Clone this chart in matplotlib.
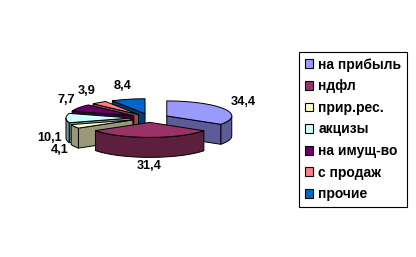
import numpy as np
import matplotlib
matplotlib.use('Agg')
import matplotlib.pyplot as plt
from matplotlib.patches import Polygon, Patch
from matplotlib.colors import to_rgb

names = ['на прибыль', 'ндфл', 'прир.рес.', 'акцизы', 'на имущ-во', 'с продаж', 'прочие']
values = [34.4, 31.4, 4.1, 10.1, 7.7, 3.9, 8.4]
colors = ['#9999FF', '#993366', '#FFFFCC', '#CCFFFF', '#660066', '#FF8080', '#0066CC']

# pie geometry in pixel units
cx, cy = 150, 118
rx, ry = 65, 15
depth = 20
explode = 19
k = ry / rx

fig = plt.figure(figsize=(4.16, 2.57), dpi=100, facecolor='w')
ax = fig.add_axes([0, 0, 1, 1])
ax.set_xlim(0, 416)
ax.set_ylim(257, 0)
ax.axis('off')


def rim(t):
    t = np.radians(t)
    return rx * np.sin(t), -ry * np.cos(t)


def darker(c, f=0.6):
    return tuple(v * f for v in to_rgb(c))


total = sum(values)
bounds = np.concatenate([[0], np.cumsum(values) / total * 360])
slices = []
for i, v in enumerate(values):
    ts, te = bounds[i], bounds[i + 1]
    m = (ts + te) / 2
    ox = cx + explode * np.sin(np.radians(m))
    oy = cy - explode * k * np.cos(np.radians(m))
    slices.append((i, ts, te, m, ox, oy))

# back to front
order = sorted(slices, key=lambda s: -np.cos(np.radians(s[3])))
lw = 0.7
for i, ts, te, m, ox, oy in order:
    top = colors[i]
    side = darker(top)
    # curved outer wall, front half only
    a, b = max(ts, 90), min(te, 270)
    if a < b:
        th = np.linspace(a, b, 40)
        xs, ys = rim(th)
        upper = np.column_stack([ox + xs, oy + ys])
        lower = upper[::-1] + [0, depth]
        ax.add_patch(Polygon(np.vstack([upper, lower]), closed=True,
                             facecolor=side, edgecolor='black', lw=lw))
    # radial walls
    for t, vis in ((ts, np.sin(np.radians(ts)) < -1e-6),
                   (te, np.sin(np.radians(te)) > 1e-6)):
        if vis:
            ex, ey = rim(t)
            p = [(ox, oy), (ox + ex, oy + ey), (ox + ex, oy + ey + depth), (ox, oy + depth)]
            ax.add_patch(Polygon(p, closed=True, facecolor=side,
                                 edgecolor='black', lw=lw))
    # top face
    th = np.linspace(ts, te, 60)
    xs, ys = rim(th)
    pts = np.vstack([[ox, oy], np.column_stack([ox + xs, oy + ys])])
    ax.add_patch(Polygon(pts, closed=True, facecolor=top,
                         edgecolor='black', lw=lw))

# data labels
nudge = {2: (5, 11), 3: (5.5, 20), 4: (6, 0)}
for i, ts, te, m, ox, oy in slices:
    s, c = np.sin(np.radians(m)), np.cos(np.radians(m))
    lx = ox + (rx + 21.5) * s
    ly = oy - (ry + 14) * c + 0.75 * depth * max(0, -c)
    dx, dy = nudge.get(i, (0, 0))
    ax.text(lx + dx, ly + dy, f'{values[i]:.1f}'.replace('.', ','),
            ha='center', va='center', fontsize=9.2, fontweight='bold',
            family='Liberation Sans')

handles = [Patch(facecolor=c, edgecolor='black', linewidth=0.8) for c in colors]
leg = fig.legend(handles, names, loc='upper left',
                 bbox_to_anchor=(299 / 416, 1 - 52 / 257),
                 prop={'family': 'Liberation Sans', 'weight': 'bold', 'size': 10},
                 frameon=True, fancybox=False, edgecolor='black', framealpha=1,
                 handlelength=0.6, handleheight=0.6, handletextpad=0.4,
                 labelspacing=0.55, borderpad=0.4, borderaxespad=0)
leg.get_frame().set_linewidth(0.8)

fig.savefig('out.png', dpi=100, facecolor='w')
